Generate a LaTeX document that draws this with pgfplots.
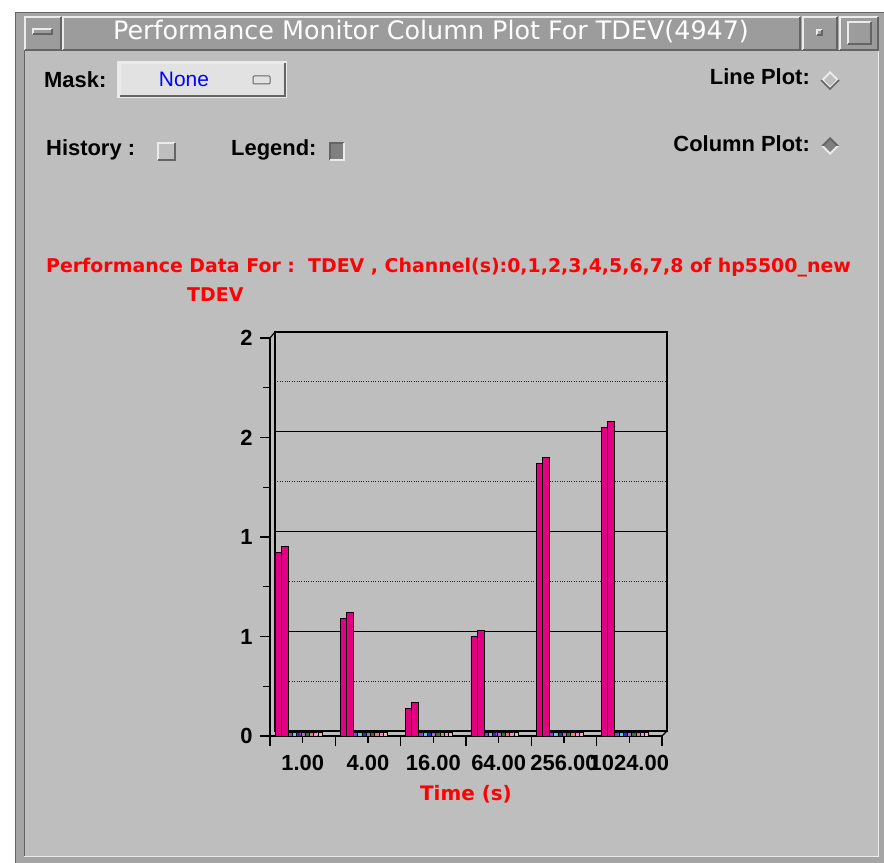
\documentclass[border=0pt]{standalone}
\usepackage{pgfplots}
\pgfplotsset{compat=1.18}
\usepackage{pgfplotstable}
\usepackage{fontspec}
\setmainfont{Liberation Sans}
\newfontfamily\dvs{DejaVu Sans}
\definecolor{winbg}{RGB}{190,190,190}
\definecolor{framec}{RGB}{165,165,165}
\definecolor{titlebg}{RGB}{156,156,156}
\definecolor{barmag}{RGB}{224,0,128}
\definecolor{ca}{RGB}{160,50,200}
\definecolor{cb}{RGB}{60,220,220}
\definecolor{cc}{RGB}{40,40,230}
\definecolor{cd}{RGB}{200,90,210}
\definecolor{ce}{RGB}{30,130,40}
\definecolor{cf}{RGB}{240,120,110}
\definecolor{cg}{RGB}{220,150,220}
\definecolor{ch}{RGB}{245,180,180}
\definecolor{maskbg}{RGB}{226,226,226}
\definecolor{lite}{RGB}{235,235,235}
\definecolor{dark}{RGB}{100,100,100}

\pgfplotstableread{
g front side c1 c2 c3 c4 c5 c6 c7 c8
0 0.92 0.95 0.02 0.02 0.02 0.02 0.02 0.02 0.02 0.02
1 0.59 0.62 0.02 0.02 0.02 0.02 0.02 0.02 0.02 0.02
2 0.14 0.17 0.02 0.02 0.02 0.02 0.02 0.02 0.02 0.02
3 0.50 0.53 0.02 0.02 0.02 0.02 0.02 0.02 0.02 0.02
4 1.37 1.40 0.02 0.02 0.02 0.02 0.02 0.02 0.02 0.02
5 1.55 1.58 0.02 0.02 0.02 0.02 0.02 0.02 0.02 0.02
}\data

\newcommand\raised[5]{% x1 y1 x2 y2 fill
  \fill[#5] (#1,#2) rectangle (#3,#4);
  \draw[lite, line width=1.5bp] (#1,#2) -- (#1,#4) -- (#3,#4);
  \draw[dark, line width=1.5bp] (#1,#2) -- (#3,#2) -- (#3,#4);}
\newcommand\sunken[5]{%
  \fill[#5] (#1,#2) rectangle (#3,#4);
  \draw[dark, line width=1.5bp] (#1,#2) -- (#1,#4) -- (#3,#4);
  \draw[lite, line width=1.5bp] (#1,#2) -- (#3,#2) -- (#3,#4);}

\begin{document}
\begin{tikzpicture}[x=1bp,y=1bp]
\useasboundingbox (0,0) rectangle (884,863);
\fill[white] (0,0) rectangle (884,863);
% window frame
\fill[framec] (15,0) rectangle (884,851);
\draw[dark, line width=1bp] (15.5,0) -- (15.5,850.5) -- (884,850.5);
\fill[winbg] (24,6) rectangle (878,812);
\draw[dark, line width=1bp] (24,6) -- (24,812) -- (878,812);
\draw[lite, line width=1bp] (24,6) -- (878,6) -- (878,812);
% title bar
\raised{25}{813}{61}{846}{titlebg}
\raised{33}{829}{52}{834}{titlebg}
\raised{63}{813}{800}{846}{titlebg}
\raised{803}{813}{837}{846}{titlebg}
\raised{817}{828}{822}{833}{titlebg}
\raised{840}{813}{878}{846}{titlebg}
\raised{848}{819}{871}{841}{titlebg}
\node[white, font=\dvs\fontsize{25.5}{25.5}\selectfont] at (431,831) {Performance Monitor Column Plot For TDEV(4947)};
% controls
\node[anchor=west, font=\bfseries\fontsize{22}{22}\selectfont, inner sep=0] at (44,783) {Mask:};
\fill[lite] (117,765) rectangle (287,802);
\raised{120}{767}{285}{800}{maskbg}
\node[blue, font=\fontsize{21}{21}\selectfont] at (184,784) {None};
\draw[dark, line width=1bp, rounded corners=1bp, fill=maskbg] (253,779) rectangle (270,787);
\node[anchor=west, font=\bfseries\fontsize{22}{22}\selectfont, inner sep=0] at (46,713) {History\ :};
\raised{158}{703}{175}{720}{winbg}
\node[anchor=west, font=\bfseries\fontsize{22}{22}\selectfont, inner sep=0] at (231,713) {Legend:};
\sunken{330}{703}{344}{720}{gray}
\node[anchor=east, font=\bfseries\fontsize{22}{22}\selectfont, inner sep=0] at (810,786) {Line Plot:};
\fill[lite] (821,783) -- (830,792) -- (839,783) -- (830,774) -- cycle;
\fill[winbg] (824,783) -- (830,789) -- (836,783) -- (830,777) -- cycle;
\draw[dark, line width=1.5bp] (821,783) -- (830,774) -- (839,783);
\node[anchor=east, font=\bfseries\fontsize{22}{22}\selectfont, inner sep=0] at (810,719) {Column Plot:};
\fill[lite] (821,717) -- (830,708) -- (839,717) -- cycle;
\fill[dark] (821,717) -- (830,726) -- (839,717) -- cycle;
\fill[gray] (824,717) -- (830,723) -- (836,717) -- (830,711) -- cycle;
% red header
\node[anchor=west, red, font=\dvs\bfseries\fontsize{19}{19}\selectfont, inner sep=0] at (46,595) {Performance Data For :\ \ TDEV , Channel(s):0,1,2,3,4,5,6,7,8 of hp5500\_new};
\node[anchor=west, red, font=\dvs\bfseries\fontsize{19}{19}\selectfont, inner sep=0] at (187,568) {TDEV};

% back wall
\begin{axis}[at={(275bp,132bp)}, anchor=south west, scale only axis,
  width=392bp, height=399bp, xmin=0, xmax=6, ymin=0, ymax=2,
  xtick=\empty, ytick={0,0.5,1,1.5,2}, minor ytick={0.25,0.75,1.25,1.75},
  yticklabels={}, major tick length=0pt, minor tick length=0pt,
  ymajorgrids, yminorgrids,
  major grid style={black, line width=1.2bp},
  minor grid style={black!85, dotted, line width=1.2bp},
  axis line style={black, line width=1.2bp}]
\end{axis}
\draw[black, line width=1.2bp] (270,525) -- (275,531);
\draw[black, line width=1.2bp] (662,127) -- (667,132);

% front axis with bars
\begin{axis}[at={(270bp,127bp)}, anchor=south west, scale only axis,
  width=392bp, height=398bp, xmin=0, xmax=6, ymin=0, ymax=2,
  axis x line=bottom, axis y line=left,
  axis line style={-, black, line width=1.2bp},
  xtick={0,1,2,3,4,5,6}, xticklabels={},
  extra x ticks={0.5,1.5,2.5,3.5,4.5,5.5},
  extra x tick labels={1.00,4.00,16.00,64.00,256.00,1024.00},
  extra x tick style={major tick length=7bp},
  ytick={0,0.5,1,1.5,2}, yticklabels={0,1,1,2,2},
  minor ytick={0.25,0.75,1.25,1.75},
  tick align=outside, major tick length=10bp, minor tick length=7bp,
  every tick/.style={black, line width=1.2bp},
  /pgf/number format/assume math mode=true,
  ticklabel style={font=\bfseries\fontsize{22}{22}\selectfont},
  xticklabel style={yshift=-9bp},
  yticklabel style={xshift=-4bp},
  xlabel={Time (s)},
  xlabel style={red, font=\dvs\bfseries\fontsize{20}{20}\selectfont, yshift=3bp},
  clip=false]
\addplot[ybar, bar width=0.092, bar shift=0pt, fill=barmag, draw=black, line width=0.9bp]
  table[x expr=\thisrow{g}+0.122, y=front]{\data};
\addplot[ybar, bar width=0.107, bar shift=0pt, fill=barmag, draw=black, line width=0.9bp]
  table[x expr=\thisrow{g}+0.222, y=side]{\data};
\addplot[ybar, bar width=0.065, bar shift=0pt, fill=ca, draw=black, line width=0.4bp]
  table[x expr=\thisrow{g}+0.308, y=c1]{\data};
\addplot[ybar, bar width=0.065, bar shift=0pt, fill=cb, draw=black, line width=0.4bp]
  table[x expr=\thisrow{g}+0.373, y=c2]{\data};
\addplot[ybar, bar width=0.065, bar shift=0pt, fill=cc, draw=black, line width=0.4bp]
  table[x expr=\thisrow{g}+0.438, y=c3]{\data};
\addplot[ybar, bar width=0.065, bar shift=0pt, fill=cd, draw=black, line width=0.4bp]
  table[x expr=\thisrow{g}+0.503, y=c4]{\data};
\addplot[ybar, bar width=0.065, bar shift=0pt, fill=ce, draw=black, line width=0.4bp]
  table[x expr=\thisrow{g}+0.568, y=c5]{\data};
\addplot[ybar, bar width=0.065, bar shift=0pt, fill=cf, draw=black, line width=0.4bp]
  table[x expr=\thisrow{g}+0.633, y=c6]{\data};
\addplot[ybar, bar width=0.065, bar shift=0pt, fill=cg, draw=black, line width=0.4bp]
  table[x expr=\thisrow{g}+0.698, y=c7]{\data};
\addplot[ybar, bar width=0.065, bar shift=0pt, fill=ch, draw=black, line width=0.4bp]
  table[x expr=\thisrow{g}+0.763, y=c8]{\data};
\end{axis}
\end{tikzpicture}
\end{document}
